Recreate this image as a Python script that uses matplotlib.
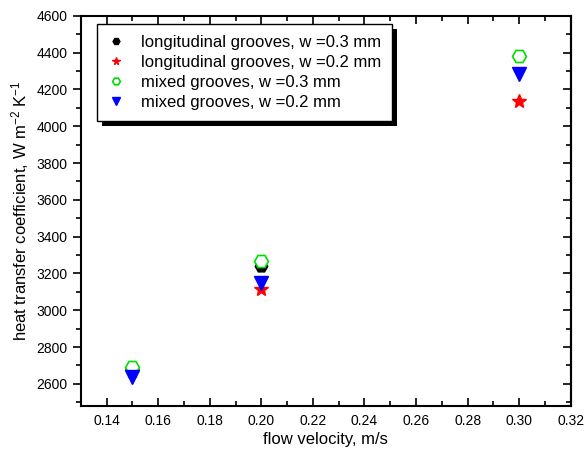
#! /usr/bin/env python3

import matplotlib
matplotlib.use('Agg')
import matplotlib.pyplot as plt
from matplotlib.patches import Rectangle
from matplotlib.ticker import MultipleLocator, FormatStrFormatter
from matplotlib.transforms import IdentityTransform

plt.rcParams['font.family'] = ['Liberation Sans', 'DejaVu Sans']
plt.rcParams['mathtext.fontset'] = 'custom'
plt.rcParams['mathtext.rm'] = 'Liberation Sans'
plt.rcParams['mathtext.it'] = 'Liberation Sans:italic'

# data
velocity = [0.15, 0.20, 0.30]
long_03 = [2680, 3240, 4380]
long_02 = [2670, 3115, 4140]
mixed_03 = [2690, 3265, 4380]
mixed_02 = [2635, 3150, 4283]

labels = ['longitudinal grooves, w =0.3 mm',
          'longitudinal grooves, w =0.2 mm',
          'mixed grooves, w =0.3 mm',
          'mixed grooves, w =0.2 mm']


def main():
    fig = plt.figure(figsize=(5.86, 4.55), dpi=100)
    ax = fig.add_axes([0.138, 0.108, 0.836, 0.857])

    ax.plot(velocity, long_03, ls='none', marker='H', ms=9, color='black',
            label=labels[0], zorder=3)
    ax.plot(velocity, long_02, ls='none', marker='*', ms=10, color='red',
            label=labels[1], zorder=3)
    ax.plot(velocity, mixed_03, ls='none', marker='H', ms=10, mec='#00dd00',
            mfc='white', mew=1.2, label=labels[2], zorder=4)
    ax.plot(velocity, mixed_02, ls='none', marker='v', ms=10, color='blue',
            label=labels[3], zorder=5)

    ax.set_xlim(0.13, 0.32)
    ax.set_ylim(2480, 4600)
    ax.xaxis.set_major_locator(MultipleLocator(0.02))
    ax.xaxis.set_minor_locator(MultipleLocator(0.01))
    ax.yaxis.set_major_locator(MultipleLocator(200))
    ax.yaxis.set_minor_locator(MultipleLocator(100))
    ax.xaxis.set_major_formatter(FormatStrFormatter('%.2f'))

    for s in ax.spines.values():
        s.set_linewidth(1.5)
    ax.tick_params(axis='x', which='both', direction='in', top=True,
                   labelsize=10, width=1.2, pad=6)
    ax.tick_params(axis='y', which='both', direction='out', right=False,
                   labelsize=10, width=1.2)
    ax.tick_params(which='major', length=6)
    ax.tick_params(which='minor', length=3.5)
    # right spine ticks point inwards
    ax2 = ax.secondary_yaxis('right')
    ax2.yaxis.set_major_locator(MultipleLocator(200))
    ax2.yaxis.set_minor_locator(MultipleLocator(100))
    ax2.tick_params(which='both', direction='in', labelright=False, width=1.2)
    ax2.tick_params(which='major', length=6)
    ax2.tick_params(which='minor', length=3.5)
    ax2.spines['right'].set_linewidth(1.5)

    ax.set_xlabel('flow velocity, m/s', fontsize=12, labelpad=3)
    ax.set_ylabel('heat transfer coefficient, W m$^{-2}$ K$^{-1}$', fontsize=12,
                  labelpad=4)

    leg = ax.legend(loc='upper left', bbox_to_anchor=(0.033, 0.979),
                    borderaxespad=0, fontsize=12, frameon=True,
                    fancybox=False, framealpha=1, facecolor='white',
                    markerscale=0.55, handlelength=1.0,
                    handletextpad=1.0, labelspacing=0.3, borderpad=0.65)
    leg.get_frame().set_edgecolor('black')
    leg.get_frame().set_linewidth(1.0)
    leg.set_zorder(10)

    # black drop shadow like the original
    fig.canvas.draw()
    bb = leg.get_window_extent()
    shadow = Rectangle((bb.x0 + 5, bb.y0 - 5), bb.width, bb.height,
                       transform=IdentityTransform(), facecolor='black',
                       edgecolor='none', zorder=9, clip_on=False)
    ax.add_artist(shadow)

    fig.savefig('out.png', dpi=100)


main()
